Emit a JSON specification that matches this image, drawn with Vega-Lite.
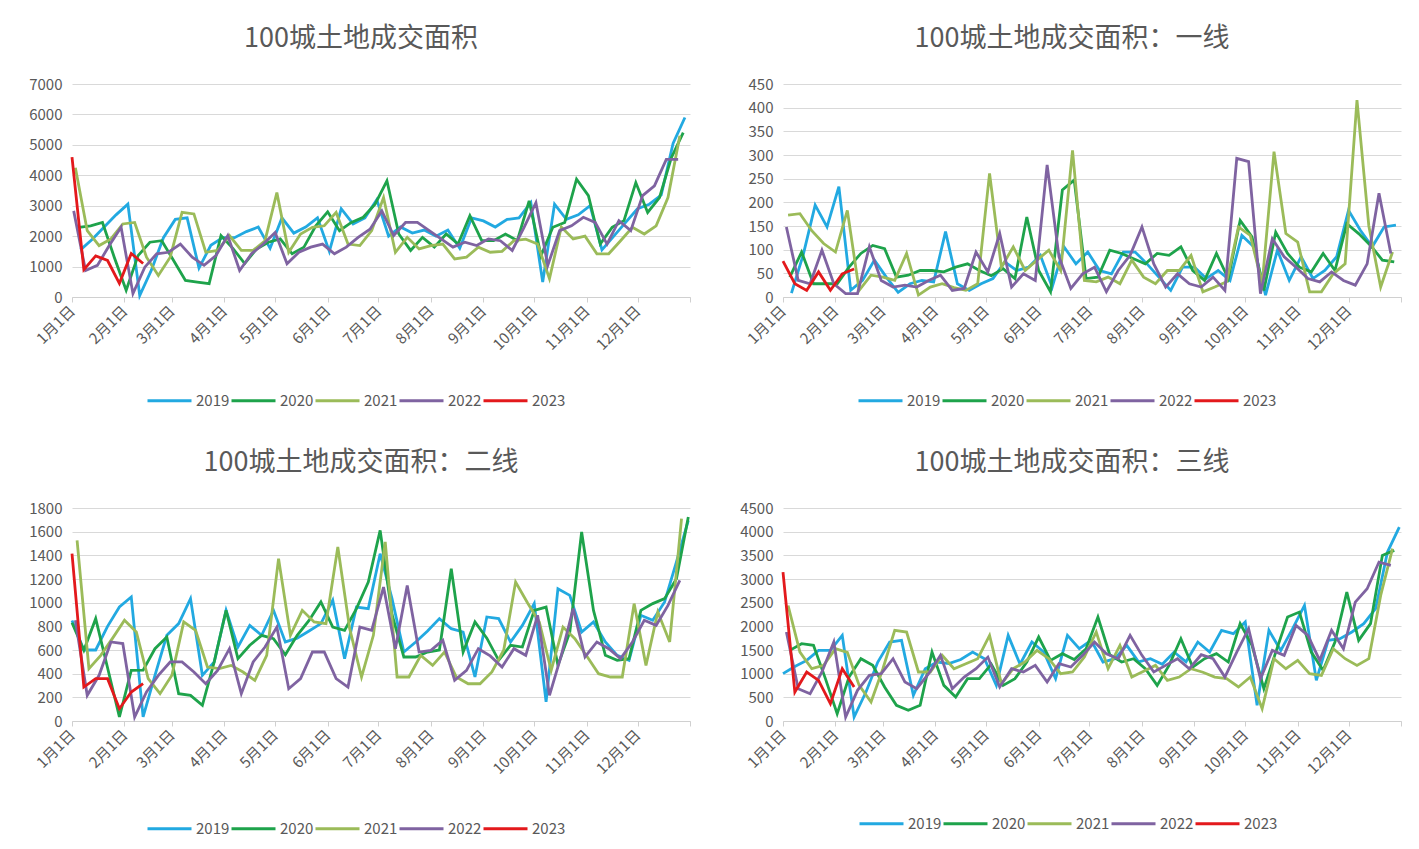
{
"$schema":"https://vega.github.io/schema/vega-lite/v6.json",
"background":"white",
"padding":{"left":28,"top":25,"right":0,"bottom":0},
"datasets":{
"A":[
{"s":2019,"d":5,"v":1550},{"s":2019,"d":12,"v":1900},{"s":2019,"d":19,"v":2300},{"s":2019,"d":26,"v":2700},{"s":2019,"d":33,"v":3050},{"s":2019,"d":40,"v":50},{"s":2019,"d":47,"v":900},{"s":2019,"d":54,"v":1950},{"s":2019,"d":61,"v":2550},{"s":2019,"d":68,"v":2600},{"s":2019,"d":75,"v":950},{"s":2019,"d":82,"v":1700},{"s":2019,"d":89,"v":1950},{"s":2019,"d":96,"v":1950},{"s":2019,"d":103,"v":2150},{"s":2019,"d":110,"v":2300},{"s":2019,"d":117,"v":1600},{"s":2019,"d":124,"v":2600},{"s":2019,"d":131,"v":2100},{"s":2019,"d":138,"v":2300},{"s":2019,"d":145,"v":2600},{"s":2019,"d":152,"v":1500},{"s":2019,"d":159,"v":2900},{"s":2019,"d":166,"v":2400},{"s":2019,"d":173,"v":2600},{"s":2019,"d":180,"v":3200},{"s":2019,"d":187,"v":2000},{"s":2019,"d":194,"v":2300},{"s":2019,"d":201,"v":2100},{"s":2019,"d":208,"v":2200},{"s":2019,"d":215,"v":2000},{"s":2019,"d":222,"v":2200},{"s":2019,"d":229,"v":1600},{"s":2019,"d":236,"v":2600},{"s":2019,"d":243,"v":2500},{"s":2019,"d":250,"v":2300},{"s":2019,"d":257,"v":2550},{"s":2019,"d":264,"v":2600},{"s":2019,"d":271,"v":3100},{"s":2019,"d":278,"v":490},{"s":2019,"d":285,"v":3050},{"s":2019,"d":292,"v":2550},{"s":2019,"d":299,"v":2700},{"s":2019,"d":306,"v":3000},{"s":2019,"d":313,"v":1550},{"s":2019,"d":320,"v":2000},{"s":2019,"d":327,"v":2450},{"s":2019,"d":334,"v":2900},{"s":2019,"d":341,"v":3050},{"s":2019,"d":348,"v":3350},{"s":2019,"d":355,"v":5050},{"s":2019,"d":362,"v":5900},
{"s":2020,"d":4,"v":2290},{"s":2020,"d":11,"v":2340},{"s":2020,"d":18,"v":2450},{"s":2020,"d":25,"v":1300},{"s":2020,"d":32,"v":220},{"s":2020,"d":39,"v":1360},{"s":2020,"d":46,"v":1800},{"s":2020,"d":53,"v":1850},{"s":2020,"d":60,"v":1200},{"s":2020,"d":67,"v":545},{"s":2020,"d":74,"v":490},{"s":2020,"d":81,"v":440},{"s":2020,"d":88,"v":2020},{"s":2020,"d":95,"v":1600},{"s":2020,"d":102,"v":1100},{"s":2020,"d":109,"v":1580},{"s":2020,"d":116,"v":1800},{"s":2020,"d":123,"v":1910},{"s":2020,"d":130,"v":1420},{"s":2020,"d":137,"v":1640},{"s":2020,"d":144,"v":2340},{"s":2020,"d":151,"v":2800},{"s":2020,"d":158,"v":2180},{"s":2020,"d":165,"v":2450},{"s":2020,"d":172,"v":2620},{"s":2020,"d":179,"v":3050},{"s":2020,"d":186,"v":3820},{"s":2020,"d":193,"v":2070},{"s":2020,"d":200,"v":1530},{"s":2020,"d":207,"v":1960},{"s":2020,"d":214,"v":1640},{"s":2020,"d":221,"v":2070},{"s":2020,"d":228,"v":1740},{"s":2020,"d":235,"v":2670},{"s":2020,"d":242,"v":1850},{"s":2020,"d":249,"v":1850},{"s":2020,"d":256,"v":2070},{"s":2020,"d":263,"v":1850},{"s":2020,"d":270,"v":3160},{"s":2020,"d":277,"v":1360},{"s":2020,"d":284,"v":2290},{"s":2020,"d":291,"v":2450},{"s":2020,"d":298,"v":3870},{"s":2020,"d":305,"v":3330},{"s":2020,"d":312,"v":1740},{"s":2020,"d":319,"v":2290},{"s":2020,"d":326,"v":2510},{"s":2020,"d":333,"v":3760},{"s":2020,"d":340,"v":2780},{"s":2020,"d":347,"v":3270},{"s":2020,"d":354,"v":4580},{"s":2020,"d":361,"v":5400},
{"s":2021,"d":2,"v":4250},{"s":2021,"d":9,"v":2180},{"s":2021,"d":16,"v":1690},{"s":2021,"d":23,"v":1910},{"s":2021,"d":30,"v":2400},{"s":2021,"d":37,"v":2450},{"s":2021,"d":44,"v":1310},{"s":2021,"d":51,"v":710},{"s":2021,"d":58,"v":1310},{"s":2021,"d":65,"v":2780},{"s":2021,"d":72,"v":2730},{"s":2021,"d":79,"v":1470},{"s":2021,"d":86,"v":1530},{"s":2021,"d":93,"v":2020},{"s":2021,"d":100,"v":1530},{"s":2021,"d":107,"v":1530},{"s":2021,"d":114,"v":1850},{"s":2021,"d":121,"v":3430},{"s":2021,"d":128,"v":1470},{"s":2021,"d":135,"v":2070},{"s":2021,"d":142,"v":2290},{"s":2021,"d":149,"v":2340},{"s":2021,"d":156,"v":2780},{"s":2021,"d":163,"v":1740},{"s":2021,"d":170,"v":1690},{"s":2021,"d":177,"v":2180},{"s":2021,"d":184,"v":3270},{"s":2021,"d":191,"v":1470},{"s":2021,"d":198,"v":1960},{"s":2021,"d":205,"v":1580},{"s":2021,"d":212,"v":1690},{"s":2021,"d":219,"v":1740},{"s":2021,"d":226,"v":1250},{"s":2021,"d":233,"v":1310},{"s":2021,"d":240,"v":1640},{"s":2021,"d":247,"v":1470},{"s":2021,"d":254,"v":1500},{"s":2021,"d":261,"v":1850},{"s":2021,"d":268,"v":1900},{"s":2021,"d":275,"v":1740},{"s":2021,"d":282,"v":600},{"s":2021,"d":289,"v":2300},{"s":2021,"d":296,"v":1910},{"s":2021,"d":303,"v":2000},{"s":2021,"d":310,"v":1420},{"s":2021,"d":317,"v":1420},{"s":2021,"d":324,"v":1850},{"s":2021,"d":331,"v":2290},{"s":2021,"d":338,"v":2070},{"s":2021,"d":345,"v":2340},{"s":2021,"d":352,"v":3270},{"s":2021,"d":359,"v":5300},
{"s":2022,"d":1,"v":2830},{"s":2022,"d":8,"v":870},{"s":2022,"d":15,"v":1040},{"s":2022,"d":22,"v":1690},{"s":2022,"d":29,"v":2290},{"s":2022,"d":36,"v":110},{"s":2022,"d":43,"v":980},{"s":2022,"d":50,"v":1420},{"s":2022,"d":57,"v":1470},{"s":2022,"d":64,"v":1740},{"s":2022,"d":71,"v":1310},{"s":2022,"d":78,"v":1040},{"s":2022,"d":85,"v":1360},{"s":2022,"d":92,"v":2020},{"s":2022,"d":99,"v":870},{"s":2022,"d":106,"v":1420},{"s":2022,"d":113,"v":1740},{"s":2022,"d":120,"v":2120},{"s":2022,"d":127,"v":1090},{"s":2022,"d":134,"v":1470},{"s":2022,"d":141,"v":1640},{"s":2022,"d":148,"v":1740},{"s":2022,"d":155,"v":1420},{"s":2022,"d":162,"v":1640},{"s":2022,"d":169,"v":1960},{"s":2022,"d":176,"v":2230},{"s":2022,"d":183,"v":2830},{"s":2022,"d":190,"v":2020},{"s":2022,"d":197,"v":2450},{"s":2022,"d":204,"v":2450},{"s":2022,"d":211,"v":2180},{"s":2022,"d":218,"v":1910},{"s":2022,"d":225,"v":1640},{"s":2022,"d":232,"v":1800},{"s":2022,"d":239,"v":1690},{"s":2022,"d":246,"v":1910},{"s":2022,"d":253,"v":1850},{"s":2022,"d":260,"v":1530},{"s":2022,"d":267,"v":2290},{"s":2022,"d":274,"v":3100},{"s":2022,"d":281,"v":1040},{"s":2022,"d":288,"v":2180},{"s":2022,"d":295,"v":2340},{"s":2022,"d":302,"v":2620},{"s":2022,"d":309,"v":2450},{"s":2022,"d":316,"v":1740},{"s":2022,"d":323,"v":2510},{"s":2022,"d":330,"v":2180},{"s":2022,"d":337,"v":3330},{"s":2022,"d":344,"v":3650},{"s":2022,"d":351,"v":4520},{"s":2022,"d":358,"v":4520},
{"s":2023,"d":0,"v":4600},{"s":2023,"d":7,"v":900},{"s":2023,"d":14,"v":1350},{"s":2023,"d":21,"v":1200},{"s":2023,"d":28,"v":450},{"s":2023,"d":35,"v":1430},{"s":2023,"d":42,"v":1100}
],
"B":[
{"s":2019,"d":5,"v":8},{"s":2019,"d":12,"v":90},{"s":2019,"d":19,"v":194},{"s":2019,"d":26,"v":148},{"s":2019,"d":33,"v":233},{"s":2019,"d":40,"v":14},{"s":2019,"d":47,"v":35},{"s":2019,"d":54,"v":78},{"s":2019,"d":61,"v":42},{"s":2019,"d":68,"v":10},{"s":2019,"d":75,"v":28},{"s":2019,"d":82,"v":35},{"s":2019,"d":89,"v":32},{"s":2019,"d":96,"v":138},{"s":2019,"d":103,"v":28},{"s":2019,"d":110,"v":14},{"s":2019,"d":117,"v":28},{"s":2019,"d":124,"v":39},{"s":2019,"d":131,"v":74},{"s":2019,"d":138,"v":56},{"s":2019,"d":145,"v":63},{"s":2019,"d":152,"v":88},{"s":2019,"d":159,"v":21},{"s":2019,"d":166,"v":106},{"s":2019,"d":173,"v":70},{"s":2019,"d":180,"v":95},{"s":2019,"d":187,"v":56},{"s":2019,"d":194,"v":49},{"s":2019,"d":201,"v":95},{"s":2019,"d":208,"v":95},{"s":2019,"d":215,"v":70},{"s":2019,"d":222,"v":42},{"s":2019,"d":229,"v":14},{"s":2019,"d":236,"v":63},{"s":2019,"d":243,"v":63},{"s":2019,"d":250,"v":39},{"s":2019,"d":257,"v":56},{"s":2019,"d":264,"v":35},{"s":2019,"d":271,"v":130},{"s":2019,"d":278,"v":106},{"s":2019,"d":285,"v":4},{"s":2019,"d":292,"v":99},{"s":2019,"d":299,"v":35},{"s":2019,"d":306,"v":85},{"s":2019,"d":313,"v":39},{"s":2019,"d":320,"v":56},{"s":2019,"d":327,"v":85},{"s":2019,"d":334,"v":183},{"s":2019,"d":341,"v":141},{"s":2019,"d":348,"v":106},{"s":2019,"d":355,"v":148},{"s":2019,"d":362,"v":152},
{"s":2020,"d":4,"v":42},{"s":2020,"d":11,"v":95},{"s":2020,"d":18,"v":28},{"s":2020,"d":25,"v":28},{"s":2020,"d":32,"v":28},{"s":2020,"d":39,"v":63},{"s":2020,"d":46,"v":92},{"s":2020,"d":53,"v":109},{"s":2020,"d":60,"v":102},{"s":2020,"d":67,"v":42},{"s":2020,"d":74,"v":46},{"s":2020,"d":81,"v":56},{"s":2020,"d":88,"v":56},{"s":2020,"d":95,"v":53},{"s":2020,"d":102,"v":63},{"s":2020,"d":109,"v":70},{"s":2020,"d":116,"v":56},{"s":2020,"d":123,"v":45},{"s":2020,"d":130,"v":60},{"s":2020,"d":137,"v":39},{"s":2020,"d":144,"v":169},{"s":2020,"d":151,"v":56},{"s":2020,"d":158,"v":11},{"s":2020,"d":165,"v":226},{"s":2020,"d":172,"v":247},{"s":2020,"d":179,"v":39},{"s":2020,"d":186,"v":42},{"s":2020,"d":193,"v":99},{"s":2020,"d":200,"v":92},{"s":2020,"d":207,"v":81},{"s":2020,"d":214,"v":70},{"s":2020,"d":221,"v":92},{"s":2020,"d":228,"v":88},{"s":2020,"d":235,"v":106},{"s":2020,"d":242,"v":56},{"s":2020,"d":249,"v":35},{"s":2020,"d":256,"v":92},{"s":2020,"d":263,"v":39},{"s":2020,"d":270,"v":162},{"s":2020,"d":277,"v":127},{"s":2020,"d":284,"v":14},{"s":2020,"d":291,"v":137},{"s":2020,"d":298,"v":92},{"s":2020,"d":305,"v":63},{"s":2020,"d":312,"v":53},{"s":2020,"d":319,"v":92},{"s":2020,"d":326,"v":56},{"s":2020,"d":333,"v":155},{"s":2020,"d":340,"v":134},{"s":2020,"d":347,"v":109},{"s":2020,"d":354,"v":78},{"s":2020,"d":361,"v":74},
{"s":2021,"d":3,"v":173},{"s":2021,"d":10,"v":176},{"s":2021,"d":17,"v":140},{"s":2021,"d":24,"v":113},{"s":2021,"d":31,"v":95},{"s":2021,"d":38,"v":183},{"s":2021,"d":45,"v":14},{"s":2021,"d":52,"v":46},{"s":2021,"d":59,"v":42},{"s":2021,"d":66,"v":35},{"s":2021,"d":73,"v":92},{"s":2021,"d":80,"v":4},{"s":2021,"d":87,"v":21},{"s":2021,"d":94,"v":28},{"s":2021,"d":101,"v":20},{"s":2021,"d":108,"v":14},{"s":2021,"d":115,"v":28},{"s":2021,"d":122,"v":261},{"s":2021,"d":129,"v":63},{"s":2021,"d":136,"v":106},{"s":2021,"d":143,"v":56},{"s":2021,"d":150,"v":78},{"s":2021,"d":157,"v":99},{"s":2021,"d":164,"v":56},{"s":2021,"d":171,"v":310},{"s":2021,"d":178,"v":35},{"s":2021,"d":185,"v":32},{"s":2021,"d":192,"v":42},{"s":2021,"d":199,"v":28},{"s":2021,"d":206,"v":78},{"s":2021,"d":213,"v":42},{"s":2021,"d":220,"v":28},{"s":2021,"d":227,"v":56},{"s":2021,"d":234,"v":56},{"s":2021,"d":241,"v":88},{"s":2021,"d":248,"v":11},{"s":2021,"d":255,"v":21},{"s":2021,"d":262,"v":32},{"s":2021,"d":269,"v":148},{"s":2021,"d":276,"v":130},{"s":2021,"d":283,"v":28},{"s":2021,"d":290,"v":307},{"s":2021,"d":297,"v":134},{"s":2021,"d":304,"v":116},{"s":2021,"d":311,"v":11},{"s":2021,"d":318,"v":11},{"s":2021,"d":325,"v":49},{"s":2021,"d":332,"v":70},{"s":2021,"d":339,"v":416},{"s":2021,"d":346,"v":150},{"s":2021,"d":353,"v":21},{"s":2021,"d":360,"v":95},
{"s":2022,"d":2,"v":148},{"s":2022,"d":9,"v":35},{"s":2022,"d":16,"v":28},{"s":2022,"d":23,"v":99},{"s":2022,"d":30,"v":28},{"s":2022,"d":37,"v":7},{"s":2022,"d":44,"v":7},{"s":2022,"d":51,"v":106},{"s":2022,"d":58,"v":35},{"s":2022,"d":65,"v":21},{"s":2022,"d":72,"v":25},{"s":2022,"d":79,"v":21},{"s":2022,"d":86,"v":35},{"s":2022,"d":93,"v":46},{"s":2022,"d":100,"v":14},{"s":2022,"d":107,"v":18},{"s":2022,"d":114,"v":95},{"s":2022,"d":121,"v":53},{"s":2022,"d":128,"v":134},{"s":2022,"d":135,"v":21},{"s":2022,"d":142,"v":49},{"s":2022,"d":149,"v":35},{"s":2022,"d":156,"v":279},{"s":2022,"d":163,"v":85},{"s":2022,"d":170,"v":18},{"s":2022,"d":177,"v":49},{"s":2022,"d":184,"v":63},{"s":2022,"d":191,"v":11},{"s":2022,"d":198,"v":56},{"s":2022,"d":205,"v":88},{"s":2022,"d":212,"v":148},{"s":2022,"d":219,"v":70},{"s":2022,"d":226,"v":21},{"s":2022,"d":233,"v":49},{"s":2022,"d":240,"v":28},{"s":2022,"d":247,"v":21},{"s":2022,"d":254,"v":42},{"s":2022,"d":261,"v":14},{"s":2022,"d":268,"v":293},{"s":2022,"d":275,"v":286},{"s":2022,"d":282,"v":7},{"s":2022,"d":289,"v":123},{"s":2022,"d":296,"v":85},{"s":2022,"d":303,"v":63},{"s":2022,"d":310,"v":39},{"s":2022,"d":317,"v":32},{"s":2022,"d":324,"v":53},{"s":2022,"d":331,"v":35},{"s":2022,"d":338,"v":25},{"s":2022,"d":345,"v":70},{"s":2022,"d":352,"v":219},{"s":2022,"d":359,"v":92},
{"s":2023,"d":0,"v":76},{"s":2023,"d":7,"v":28},{"s":2023,"d":14,"v":14},{"s":2023,"d":21,"v":53},{"s":2023,"d":28,"v":14},{"s":2023,"d":35,"v":49},{"s":2023,"d":42,"v":59}
],
"C":[
{"s":2019,"d":0,"v":850},{"s":2019,"d":7,"v":600},{"s":2019,"d":14,"v":600},{"s":2019,"d":21,"v":800},{"s":2019,"d":28,"v":963},{"s":2019,"d":35,"v":1048},{"s":2019,"d":42,"v":34},{"s":2019,"d":49,"v":386},{"s":2019,"d":56,"v":724},{"s":2019,"d":63,"v":823},{"s":2019,"d":70,"v":1034},{"s":2019,"d":77,"v":386},{"s":2019,"d":84,"v":499},{"s":2019,"d":91,"v":935},{"s":2019,"d":98,"v":625},{"s":2019,"d":105,"v":808},{"s":2019,"d":112,"v":724},{"s":2019,"d":119,"v":935},{"s":2019,"d":126,"v":668},{"s":2019,"d":133,"v":700},{"s":2019,"d":140,"v":760},{"s":2019,"d":147,"v":823},{"s":2019,"d":154,"v":1020},{"s":2019,"d":161,"v":527},{"s":2019,"d":168,"v":963},{"s":2019,"d":175,"v":950},{"s":2019,"d":182,"v":1414},{"s":2019,"d":189,"v":1034},{"s":2019,"d":196,"v":583},{"s":2019,"d":203,"v":668},{"s":2019,"d":210,"v":760},{"s":2019,"d":217,"v":865},{"s":2019,"d":224,"v":780},{"s":2019,"d":231,"v":752},{"s":2019,"d":238,"v":372},{"s":2019,"d":245,"v":879},{"s":2019,"d":252,"v":865},{"s":2019,"d":259,"v":668},{"s":2019,"d":266,"v":808},{"s":2019,"d":273,"v":992},{"s":2019,"d":280,"v":161},{"s":2019,"d":287,"v":1118},{"s":2019,"d":294,"v":1062},{"s":2019,"d":301,"v":752},{"s":2019,"d":308,"v":837},{"s":2019,"d":315,"v":668},{"s":2019,"d":322,"v":555},{"s":2019,"d":329,"v":513},{"s":2019,"d":336,"v":893},{"s":2019,"d":343,"v":851},{"s":2019,"d":350,"v":1006},{"s":2019,"d":357,"v":1344},{"s":2019,"d":364,"v":1696},
{"s":2020,"d":0,"v":830},{"s":2020,"d":7,"v":597},{"s":2020,"d":14,"v":865},{"s":2020,"d":21,"v":450},{"s":2020,"d":28,"v":34},{"s":2020,"d":35,"v":428},{"s":2020,"d":42,"v":430},{"s":2020,"d":49,"v":611},{"s":2020,"d":56,"v":710},{"s":2020,"d":63,"v":231},{"s":2020,"d":70,"v":217},{"s":2020,"d":77,"v":132},{"s":2020,"d":84,"v":500},{"s":2020,"d":91,"v":935},{"s":2020,"d":98,"v":527},{"s":2020,"d":105,"v":640},{"s":2020,"d":112,"v":724},{"s":2020,"d":119,"v":696},{"s":2020,"d":126,"v":560},{"s":2020,"d":133,"v":724},{"s":2020,"d":140,"v":850},{"s":2020,"d":147,"v":1006},{"s":2020,"d":154,"v":794},{"s":2020,"d":161,"v":766},{"s":2020,"d":168,"v":950},{"s":2020,"d":175,"v":1175},{"s":2020,"d":182,"v":1611},{"s":2020,"d":189,"v":900},{"s":2020,"d":196,"v":541},{"s":2020,"d":203,"v":541},{"s":2020,"d":210,"v":583},{"s":2020,"d":217,"v":600},{"s":2020,"d":224,"v":1287},{"s":2020,"d":231,"v":583},{"s":2020,"d":238,"v":837},{"s":2020,"d":245,"v":700},{"s":2020,"d":252,"v":513},{"s":2020,"d":259,"v":640},{"s":2020,"d":266,"v":625},{"s":2020,"d":273,"v":935},{"s":2020,"d":280,"v":963},{"s":2020,"d":287,"v":470},{"s":2020,"d":294,"v":750},{"s":2020,"d":301,"v":1597},{"s":2020,"d":308,"v":935},{"s":2020,"d":315,"v":555},{"s":2020,"d":322,"v":513},{"s":2020,"d":329,"v":527},{"s":2020,"d":336,"v":935},{"s":2020,"d":343,"v":992},{"s":2020,"d":350,"v":1034},{"s":2020,"d":357,"v":1203},{"s":2020,"d":364,"v":1724},
{"s":2021,"d":3,"v":1527},{"s":2021,"d":10,"v":442},{"s":2021,"d":17,"v":555},{"s":2021,"d":24,"v":700},{"s":2021,"d":31,"v":851},{"s":2021,"d":38,"v":752},{"s":2021,"d":45,"v":358},{"s":2021,"d":52,"v":231},{"s":2021,"d":59,"v":386},{"s":2021,"d":66,"v":837},{"s":2021,"d":73,"v":766},{"s":2021,"d":80,"v":456},{"s":2021,"d":87,"v":442},{"s":2021,"d":94,"v":470},{"s":2021,"d":101,"v":414},{"s":2021,"d":108,"v":344},{"s":2021,"d":115,"v":555},{"s":2021,"d":122,"v":1372},{"s":2021,"d":129,"v":724},{"s":2021,"d":136,"v":935},{"s":2021,"d":143,"v":837},{"s":2021,"d":150,"v":823},{"s":2021,"d":157,"v":1470},{"s":2021,"d":164,"v":780},{"s":2021,"d":171,"v":372},{"s":2021,"d":178,"v":724},{"s":2021,"d":185,"v":1513},{"s":2021,"d":192,"v":372},{"s":2021,"d":199,"v":372},{"s":2021,"d":206,"v":555},{"s":2021,"d":213,"v":470},{"s":2021,"d":220,"v":583},{"s":2021,"d":227,"v":372},{"s":2021,"d":234,"v":315},{"s":2021,"d":241,"v":315},{"s":2021,"d":248,"v":414},{"s":2021,"d":255,"v":600},{"s":2021,"d":262,"v":1175},{"s":2021,"d":269,"v":1000},{"s":2021,"d":276,"v":837},{"s":2021,"d":283,"v":428},{"s":2021,"d":290,"v":794},{"s":2021,"d":297,"v":696},{"s":2021,"d":304,"v":550},{"s":2021,"d":311,"v":400},{"s":2021,"d":318,"v":372},{"s":2021,"d":325,"v":372},{"s":2021,"d":332,"v":992},{"s":2021,"d":339,"v":470},{"s":2021,"d":346,"v":921},{"s":2021,"d":353,"v":668},{"s":2021,"d":360,"v":1710},
{"s":2022,"d":2,"v":851},{"s":2022,"d":9,"v":217},{"s":2022,"d":16,"v":386},{"s":2022,"d":23,"v":668},{"s":2022,"d":30,"v":654},{"s":2022,"d":37,"v":34},{"s":2022,"d":44,"v":245},{"s":2022,"d":51,"v":386},{"s":2022,"d":58,"v":499},{"s":2022,"d":65,"v":499},{"s":2022,"d":72,"v":414},{"s":2022,"d":79,"v":315},{"s":2022,"d":86,"v":428},{"s":2022,"d":93,"v":611},{"s":2022,"d":100,"v":231},{"s":2022,"d":107,"v":499},{"s":2022,"d":114,"v":625},{"s":2022,"d":121,"v":794},{"s":2022,"d":128,"v":273},{"s":2022,"d":135,"v":358},{"s":2022,"d":142,"v":583},{"s":2022,"d":149,"v":583},{"s":2022,"d":156,"v":358},{"s":2022,"d":163,"v":287},{"s":2022,"d":170,"v":794},{"s":2022,"d":177,"v":766},{"s":2022,"d":184,"v":1132},{"s":2022,"d":191,"v":611},{"s":2022,"d":198,"v":1146},{"s":2022,"d":205,"v":583},{"s":2022,"d":212,"v":597},{"s":2022,"d":219,"v":682},{"s":2022,"d":226,"v":344},{"s":2022,"d":233,"v":428},{"s":2022,"d":240,"v":611},{"s":2022,"d":247,"v":550},{"s":2022,"d":254,"v":456},{"s":2022,"d":261,"v":611},{"s":2022,"d":268,"v":555},{"s":2022,"d":275,"v":893},{"s":2022,"d":282,"v":217},{"s":2022,"d":289,"v":555},{"s":2022,"d":296,"v":949},{"s":2022,"d":303,"v":541},{"s":2022,"d":310,"v":668},{"s":2022,"d":317,"v":611},{"s":2022,"d":324,"v":527},{"s":2022,"d":331,"v":668},{"s":2022,"d":338,"v":851},{"s":2022,"d":345,"v":808},{"s":2022,"d":352,"v":977},{"s":2022,"d":359,"v":1189},
{"s":2023,"d":0,"v":1414},{"s":2023,"d":7,"v":287},{"s":2023,"d":14,"v":358},{"s":2023,"d":21,"v":358},{"s":2023,"d":28,"v":104},{"s":2023,"d":35,"v":245},{"s":2023,"d":42,"v":315}
],
"D":[
{"s":2019,"d":0,"v":1000},{"s":2019,"d":7,"v":1150},{"s":2019,"d":14,"v":1281},{"s":2019,"d":21,"v":1492},{"s":2019,"d":28,"v":1492},{"s":2019,"d":35,"v":1809},{"s":2019,"d":42,"v":84},{"s":2019,"d":49,"v":612},{"s":2019,"d":56,"v":1246},{"s":2019,"d":63,"v":1668},{"s":2019,"d":70,"v":1704},{"s":2019,"d":77,"v":542},{"s":2019,"d":84,"v":1105},{"s":2019,"d":91,"v":1246},{"s":2019,"d":98,"v":1211},{"s":2019,"d":105,"v":1300},{"s":2019,"d":112,"v":1457},{"s":2019,"d":119,"v":1316},{"s":2019,"d":126,"v":753},{"s":2019,"d":133,"v":1809},{"s":2019,"d":140,"v":1200},{"s":2019,"d":147,"v":1668},{"s":2019,"d":154,"v":1457},{"s":2019,"d":161,"v":894},{"s":2019,"d":168,"v":1809},{"s":2019,"d":175,"v":1527},{"s":2019,"d":182,"v":1704},{"s":2019,"d":189,"v":1246},{"s":2019,"d":196,"v":1316},{"s":2019,"d":203,"v":1598},{"s":2019,"d":210,"v":1250},{"s":2019,"d":217,"v":1316},{"s":2019,"d":224,"v":1200},{"s":2019,"d":231,"v":1457},{"s":2019,"d":238,"v":1250},{"s":2019,"d":245,"v":1668},{"s":2019,"d":252,"v":1457},{"s":2019,"d":259,"v":1915},{"s":2019,"d":266,"v":1844},{"s":2019,"d":273,"v":2091},{"s":2019,"d":280,"v":331},{"s":2019,"d":287,"v":1915},{"s":2019,"d":294,"v":1492},{"s":2019,"d":301,"v":1950},{"s":2019,"d":308,"v":2443},{"s":2019,"d":315,"v":859},{"s":2019,"d":322,"v":1704},{"s":2019,"d":329,"v":1739},{"s":2019,"d":336,"v":1880},{"s":2019,"d":343,"v":2056},{"s":2019,"d":350,"v":2372},{"s":2019,"d":357,"v":3569},{"s":2019,"d":364,"v":4097},
{"s":2020,"d":4,"v":1492},{"s":2020,"d":11,"v":1633},{"s":2020,"d":18,"v":1598},{"s":2020,"d":25,"v":900},{"s":2020,"d":32,"v":155},{"s":2020,"d":39,"v":929},{"s":2020,"d":46,"v":1316},{"s":2020,"d":53,"v":1175},{"s":2020,"d":60,"v":718},{"s":2020,"d":67,"v":331},{"s":2020,"d":74,"v":225},{"s":2020,"d":81,"v":331},{"s":2020,"d":88,"v":1457},{"s":2020,"d":95,"v":753},{"s":2020,"d":102,"v":507},{"s":2020,"d":109,"v":894},{"s":2020,"d":116,"v":894},{"s":2020,"d":123,"v":1200},{"s":2020,"d":130,"v":753},{"s":2020,"d":137,"v":894},{"s":2020,"d":144,"v":1246},{"s":2020,"d":151,"v":1774},{"s":2020,"d":158,"v":1281},{"s":2020,"d":165,"v":1422},{"s":2020,"d":172,"v":1300},{"s":2020,"d":179,"v":1527},{"s":2020,"d":186,"v":2196},{"s":2020,"d":193,"v":1400},{"s":2020,"d":200,"v":1246},{"s":2020,"d":207,"v":1316},{"s":2020,"d":214,"v":1105},{"s":2020,"d":221,"v":753},{"s":2020,"d":228,"v":1175},{"s":2020,"d":235,"v":1739},{"s":2020,"d":242,"v":1140},{"s":2020,"d":249,"v":1316},{"s":2020,"d":256,"v":1422},{"s":2020,"d":263,"v":1246},{"s":2020,"d":270,"v":2056},{"s":2020,"d":277,"v":1600},{"s":2020,"d":284,"v":683},{"s":2020,"d":291,"v":1450},{"s":2020,"d":298,"v":2196},{"s":2020,"d":305,"v":2302},{"s":2020,"d":312,"v":1457},{"s":2020,"d":319,"v":1070},{"s":2020,"d":326,"v":1668},{"s":2020,"d":333,"v":2724},{"s":2020,"d":340,"v":1704},{"s":2020,"d":347,"v":2056},{"s":2020,"d":354,"v":3499},{"s":2020,"d":361,"v":3604},
{"s":2021,"d":3,"v":2440},{"s":2021,"d":10,"v":1457},{"s":2021,"d":17,"v":1105},{"s":2021,"d":24,"v":1175},{"s":2021,"d":31,"v":1527},{"s":2021,"d":38,"v":1450},{"s":2021,"d":45,"v":753},{"s":2021,"d":52,"v":401},{"s":2021,"d":59,"v":1105},{"s":2021,"d":66,"v":1915},{"s":2021,"d":73,"v":1880},{"s":2021,"d":80,"v":1035},{"s":2021,"d":87,"v":1035},{"s":2021,"d":94,"v":1387},{"s":2021,"d":101,"v":1105},{"s":2021,"d":108,"v":1211},{"s":2021,"d":115,"v":1316},{"s":2021,"d":122,"v":1809},{"s":2021,"d":129,"v":788},{"s":2021,"d":136,"v":1105},{"s":2021,"d":143,"v":1250},{"s":2021,"d":150,"v":1492},{"s":2021,"d":157,"v":1316},{"s":2021,"d":164,"v":1000},{"s":2021,"d":171,"v":1035},{"s":2021,"d":178,"v":1350},{"s":2021,"d":185,"v":1880},{"s":2021,"d":192,"v":1105},{"s":2021,"d":199,"v":1598},{"s":2021,"d":206,"v":929},{"s":2021,"d":213,"v":1050},{"s":2021,"d":220,"v":1175},{"s":2021,"d":227,"v":859},{"s":2021,"d":234,"v":929},{"s":2021,"d":241,"v":1105},{"s":2021,"d":248,"v":1030},{"s":2021,"d":255,"v":929},{"s":2021,"d":262,"v":894},{"s":2021,"d":269,"v":718},{"s":2021,"d":276,"v":929},{"s":2021,"d":283,"v":260},{"s":2021,"d":290,"v":1316},{"s":2021,"d":297,"v":1105},{"s":2021,"d":304,"v":1281},{"s":2021,"d":311,"v":1000},{"s":2021,"d":318,"v":964},{"s":2021,"d":325,"v":1527},{"s":2021,"d":332,"v":1316},{"s":2021,"d":339,"v":1175},{"s":2021,"d":346,"v":1316},{"s":2021,"d":353,"v":2654},{"s":2021,"d":360,"v":3640},
{"s":2022,"d":2,"v":1880},{"s":2022,"d":9,"v":683},{"s":2022,"d":16,"v":577},{"s":2022,"d":23,"v":1035},{"s":2022,"d":30,"v":1668},{"s":2022,"d":37,"v":84},{"s":2022,"d":44,"v":648},{"s":2022,"d":51,"v":964},{"s":2022,"d":58,"v":1000},{"s":2022,"d":65,"v":1316},{"s":2022,"d":72,"v":824},{"s":2022,"d":79,"v":683},{"s":2022,"d":86,"v":1000},{"s":2022,"d":93,"v":1387},{"s":2022,"d":100,"v":683},{"s":2022,"d":107,"v":929},{"s":2022,"d":114,"v":1105},{"s":2022,"d":121,"v":1350},{"s":2022,"d":128,"v":718},{"s":2022,"d":135,"v":1105},{"s":2022,"d":142,"v":1035},{"s":2022,"d":149,"v":1175},{"s":2022,"d":156,"v":824},{"s":2022,"d":163,"v":1211},{"s":2022,"d":170,"v":1140},{"s":2022,"d":177,"v":1387},{"s":2022,"d":184,"v":1668},{"s":2022,"d":191,"v":1422},{"s":2022,"d":198,"v":1316},{"s":2022,"d":205,"v":1809},{"s":2022,"d":212,"v":1387},{"s":2022,"d":219,"v":1035},{"s":2022,"d":226,"v":1175},{"s":2022,"d":233,"v":1316},{"s":2022,"d":240,"v":1105},{"s":2022,"d":247,"v":1400},{"s":2022,"d":254,"v":1316},{"s":2022,"d":261,"v":929},{"s":2022,"d":268,"v":1457},{"s":2022,"d":275,"v":1950},{"s":2022,"d":282,"v":894},{"s":2022,"d":289,"v":1492},{"s":2022,"d":296,"v":1387},{"s":2022,"d":303,"v":2020},{"s":2022,"d":310,"v":1809},{"s":2022,"d":317,"v":1281},{"s":2022,"d":324,"v":1915},{"s":2022,"d":331,"v":1527},{"s":2022,"d":338,"v":2513},{"s":2022,"d":345,"v":2795},{"s":2022,"d":352,"v":3358},{"s":2022,"d":359,"v":3288},
{"s":2023,"d":0,"v":3147},{"s":2023,"d":7,"v":612},{"s":2023,"d":14,"v":1035},{"s":2023,"d":21,"v":859},{"s":2023,"d":28,"v":366},{"s":2023,"d":35,"v":1105},{"s":2023,"d":42,"v":718}
]
},
"config":{
"font":"Noto Sans CJK SC",
"view":{"stroke":null},
"axis":{"labelFont":"Noto Sans CJK SC","labelFontSize":15,"labelColor":"#595959","title":null,"gridColor":"#d9d9d9","gridWidth":1,"domainColor":"#d0d0d0","tickColor":"#d0d0d0"},
"axisY":{"domain":false,"ticks":false,"labelPadding":10,"grid":true,"format":"d"},
"axisX":{"grid":false,"tickSize":5,"labelAngle":-45,"labelAlign":"right","labelBaseline":"middle","labelPadding":6,"labelOverlap":false},
"legend":{"orient":"none","direction":"horizontal","columns":5,"symbolType":"stroke","symbolSize":1936,"symbolStrokeWidth":3.5,"labelFont":"Noto Sans CJK SC","labelFontSize":15,"labelColor":"#595959","labelOffset":3,"columnPadding":-9,"title":null,"padding":0},
"title":{"font":"Noto Sans CJK SC","fontSize":27,"fontWeight":"normal","color":"#595959","anchor":"middle","frame":"group","dx":-20,"offset":24},
"line":{"strokeWidth":2.8}
},
"concat":[
{"data":{"name":"A"},"title":"100城土地成交面积","width":618,"height":213,"mark":{"type":"line"},
"encoding":{
"x":{"field":"d","type":"quantitative","scale":{"domain":[0,365],"nice":false,"zero":false},"axis":{"values":[0,31,59,90,120,151,181,212,243,273,304,334,365],"labelExpr":"datum.value >= 365 ? '' : (indexof([0,31,59,90,120,151,181,212,243,273,304,334], datum.value) + 1) + '月1日'"}},
"y":{"field":"v","type":"quantitative","scale":{"domain":[0,7000],"nice":false},"axis":{"values":[0,1000,2000,3000,4000,5000,6000,7000],"format":"d"}},
"color":{"field":"s","type":"nominal","scale":{"domain":[2019,2020,2021,2022,2023],"range":["#22a9e1","#1ea34b","#9bbb59","#7f63a1","#e3191c"]},"legend":{"legendX":74,"legendY":293}}}},
{"data":{"name":"B"},"title":"100城土地成交面积：一线","width":618,"height":213,"mark":{"type":"line"},
"encoding":{
"x":{"field":"d","type":"quantitative","scale":{"domain":[0,365],"nice":false,"zero":false},"axis":{"values":[0,31,59,90,120,151,181,212,243,273,304,334,365],"labelExpr":"datum.value >= 365 ? '' : (indexof([0,31,59,90,120,151,181,212,243,273,304,334], datum.value) + 1) + '月1日'"}},
"y":{"field":"v","type":"quantitative","scale":{"domain":[0,450],"nice":false},"axis":{"values":[0,50,100,150,200,250,300,350,400,450],"format":"d"}},
"color":{"field":"s","type":"nominal","scale":{"domain":[2019,2020,2021,2022,2023],"range":["#22a9e1","#1ea34b","#9bbb59","#7f63a1","#e3191c"]},"legend":{"legendX":74,"legendY":293}}}},
{"data":{"name":"C"},"title":"100城土地成交面积：二线","width":618,"height":213,"mark":{"type":"line"},
"encoding":{
"x":{"field":"d","type":"quantitative","scale":{"domain":[0,365],"nice":false,"zero":false},"axis":{"values":[0,31,59,90,120,151,181,212,243,273,304,334,365],"labelExpr":"datum.value >= 365 ? '' : (indexof([0,31,59,90,120,151,181,212,243,273,304,334], datum.value) + 1) + '月1日'"}},
"y":{"field":"v","type":"quantitative","scale":{"domain":[0,1800],"nice":false},"axis":{"values":[0,200,400,600,800,1000,1200,1400,1600,1800],"format":"d"}},
"color":{"field":"s","type":"nominal","scale":{"domain":[2019,2020,2021,2022,2023],"range":["#22a9e1","#1ea34b","#9bbb59","#7f63a1","#e3191c"]},"legend":{"legendX":74,"legendY":297}}}},
{"data":{"name":"D"},"title":"100城土地成交面积：三线","width":618,"height":213,"mark":{"type":"line"},
"encoding":{
"x":{"field":"d","type":"quantitative","scale":{"domain":[0,365],"nice":false,"zero":false},"axis":{"values":[0,31,59,90,120,151,181,212,243,273,304,334,365],"labelExpr":"datum.value >= 365 ? '' : (indexof([0,31,59,90,120,151,181,212,243,273,304,334], datum.value) + 1) + '月1日'"}},
"y":{"field":"v","type":"quantitative","scale":{"domain":[0,4500],"nice":false},"axis":{"values":[0,500,1000,1500,2000,2500,3000,3500,4000,4500],"format":"d"}},
"color":{"field":"s","type":"nominal","scale":{"domain":[2019,2020,2021,2022,2023],"range":["#22a9e1","#1ea34b","#9bbb59","#7f63a1","#e3191c"]},"legend":{"legendX":75,"legendY":292}}}}
],
"columns":2,
"spacing":{"row":211,"column":93},
"bounds":"flush",
"resolve":{"scale":{"x":"independent","y":"independent","color":"independent"},"legend":{"color":"independent"}}
}
